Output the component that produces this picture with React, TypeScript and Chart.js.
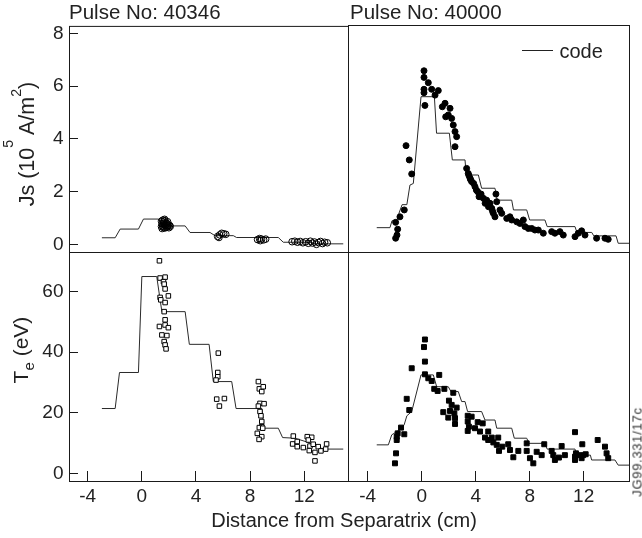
import React, { useEffect, useRef } from 'react';
import { Chart, registerables } from 'chart.js';
Chart.register(...registerables);

const W = 642;
const H = 538;
const FONT = "'Liberation Sans', Arial, Helvetica, sans-serif";

// tick values
const xTicks = [-4, 0, 4, 8, 12];
const jsTicks = [0, 2, 4, 6, 8];
const teTicks = [0, 20, 40, 60];

// ---------- Pulse 40346, Js ----------
const js40346CodeX = [-2.95, -1.97, -1.6, -0.25, 0.12, 1.23, 1.6, 3.2, 3.56, 5.04, 5.4, 6.76, 7.0, 10.08, 10.45, 12.5, 12.8, 14.88];
const js40346CodeY = [0.25, 0.25, 0.58, 0.58, 0.96, 0.96, 0.7, 0.7, 0.45, 0.45, 0.33, 0.33, 0.26, 0.26, 0.08, 0.08, 0.02, 0.02];
const js40346X = [1.45, 1.55, 1.6, 1.7, 1.8, 1.9, 1.5, 1.65, 1.75, 1.95, 1.45, 1.6, 1.7, 1.85, 2.0, 2.1, 1.55, 1.9, 1.5, 1.62, 1.78, 1.88, 2.05, 1.68,
  5.6, 5.75, 5.9, 6.05, 6.2, 5.7,
  8.55, 8.7, 8.85, 9.0, 9.15, 8.75,
  11.1, 11.3, 11.5, 11.7, 11.9, 12.1, 12.3, 12.45, 12.6, 12.75, 12.9, 13.05, 13.2, 13.35, 13.5, 13.7];
const js40346Y = [0.88, 0.92, 0.85, 0.9, 0.82, 0.86, 0.78, 0.75, 0.72, 0.74, 0.68, 0.64, 0.62, 0.65, 0.63, 0.68, 0.7, 0.7, 0.6, 0.8, 0.66, 0.78, 0.72, 0.95,
  0.3, 0.36, 0.42, 0.4, 0.38, 0.26,
  0.18, 0.22, 0.2, 0.17, 0.2, 0.14,
  0.1, 0.12, 0.08, 0.11, 0.06, 0.1, 0.04, 0.12, 0.05, 0.09, 0.0, 0.07, 0.11, 0.03, 0.08, 0.06];

// ---------- Pulse 40000, Js ----------
const js40000CodeX = [-3.33, -2.35, -2.2, -1.85, -1.7, -1.45, -1.1, -0.87, -0.62, -0.05, 0.94, 1.1, 2.05, 2.27, 3.21, 3.3, 4.2, 4.44, 5.43, 5.6, 6.67, 6.8, 7.78, 8.0, 9.13, 9.3, 11.36, 11.5, 12.6, 12.75, 14.4, 14.56, 15.36];
const js40000CodeY = [0.63, 0.63, 0.89, 0.89, 1.15, 1.5, 1.5, 2.24, 2.3, 5.58, 5.58, 4.2, 4.2, 3.19, 3.19, 2.62, 2.62, 2.12, 2.12, 1.67, 1.67, 1.3, 1.3, 0.92, 0.92, 0.67, 0.67, 0.45, 0.45, 0.32, 0.32, 0.04, 0.04];
const js40000X = [0.17, 0.17, 0.49, 0.17, 0.74, 1.23, 0.17, 0.99, 0.24, 1.53, 1.73, 2.1, 1.97, 2.22, 1.78, 2.34, 2.47, 2.59, 2.47, -1.16, -0.92, -0.74, -1.93, -1.78, -1.83, -1.93, -1.61, -1.29,
  3.33, 3.45, 3.58, 3.7, 3.95, 4.15, 4.32, 4.57, 4.81, 5.06, 5.19, 5.31, 5.43, 5.5, 5.56, 5.8, 5.93, 6.3, 6.54, 6.67, 7.04, 7.28, 7.53, 7.65, 7.9, 8.15, 8.39, 8.64, 9.01, 9.63, 9.87, 10.24, 10.49, 11.36, 11.6, 11.85, 12.1, 12.96, 13.58, 13.82,
  3.5, 3.85, 4.05, 4.4, 4.7, 4.95, 5.25, 3.62, 4.25];
const js40000Y = [6.56, 6.31, 6.11, 5.86, 5.86, 5.81, 5.73, 5.64, 5.25, 5.2, 5.33, 5.14, 4.89, 4.76, 4.82, 4.51, 4.26, 4.07, 3.69, 3.73, 3.19, 2.66, 0.83, 0.57, 0.35, 0.23, 1.04, 1.3,
  2.87, 2.68, 2.5, 2.37, 2.18, 1.99, 1.86, 1.74, 1.67, 1.55, 1.36, 1.17, 1.04, 1.9, 1.61, 1.3, 1.17, 0.98, 1.04, 0.92, 0.85, 0.79, 0.92, 0.67, 0.6, 0.6, 0.54, 0.54, 0.42, 0.48, 0.42, 0.48, 0.35, 0.29, 0.42, 0.51, 0.35, 0.23, 0.23, 0.19,
  2.6, 2.3, 2.05, 1.9, 1.55, 1.42, 1.25, 2.45, 1.8];

// ---------- Pulse 40346, Te ----------
const te40346CodeX = [-2.95, -1.97, -1.65, -0.25, 0.0, 1.1, 1.48, 3.2, 3.51, 4.97, 5.28, 6.64, 6.96, 8.86, 9.03, 10.08, 10.4, 11.3, 12.3, 13.4, 14.88];
const te40346CodeY = [21.4, 21.4, 33.3, 33.3, 65.0, 65.0, 53.4, 53.4, 42.6, 42.6, 30.3, 30.3, 21.4, 21.4, 14.9, 14.9, 11.8, 11.6, 10.2, 8.0, 8.0];
const te40346X = [1.3, 1.35, 1.72, 1.6, 1.65, 1.72, 1.96, 1.35, 1.4, 1.72, 1.65, 1.72, 1.3, 1.72, 1.96, 1.48, 1.85, 1.65, 1.72, 1.79,
  5.65, 5.61, 5.61, 5.48, 5.53, 5.73, 6.1,
  8.61, 8.68, 8.86, 8.97, 8.73, 9.03, 8.61, 8.73, 8.8, 8.86, 8.86, 8.68, 8.93, 8.53, 8.86, 8.66,
  11.19, 11.14, 11.48, 11.48, 11.93, 12.22, 12.55, 12.3, 12.42, 12.66, 12.37, 12.79, 13.03, 13.23, 13.58, 13.65, 12.79];
const te40346Y = [70.2, 64.5, 64.8, 63.3, 62.5, 60.9, 58.6, 58.1, 57.3, 56.4, 53.4, 50.7, 48.5, 49.0, 48.1, 45.7, 45.5, 43.5, 42.4, 41.1,
  39.7, 33.3, 31.9, 30.8, 24.5, 22.2, 24.7,
  30.3, 27.9, 27.0, 28.6, 23.1, 23.0, 22.2, 20.4, 19.0, 17.1, 15.4, 15.1, 14.9, 13.2, 12.1, 11.2,
  12.3, 9.7, 10.5, 8.8, 8.5, 12.1, 11.9, 11.0, 9.0, 9.6, 7.5, 6.9, 8.8, 7.4, 8.0, 9.7, 4.1];

// ---------- Pulse 40000, Te ----------
const te40000CodeX = [-3.33, -2.47, -2.22, -1.6, -1.3, -1.1, -0.74, -0.05, 0.86, 1.11, 1.97, 2.17, 2.71, 2.96, 3.21, 3.4, 4.44, 4.69, 5.43, 5.56, 6.67, 6.86, 7.78, 7.95, 9.13, 9.3, 11.36, 11.5, 12.5, 12.59, 14.32, 14.56, 15.36];
const te40000CodeY = [9.4, 9.4, 12.7, 14.5, 16.0, 19.0, 20.4, 32.5, 32.5, 28.6, 28.6, 27.0, 27.0, 23.7, 23.7, 20.4, 20.4, 17.6, 17.6, 14.9, 14.9, 11.6, 11.6, 9.9, 9.9, 8.0, 8.0, 6.0, 6.0, 4.4, 4.4, 2.7, 2.7];
const te40000X = [0.24, 0.17, 0.24, 0.24, -0.74, 1.3, 0.49, 0.74, 0.93, 1.18, 1.68, 2.34, 2.02, 2.22, 2.59, 2.1, 2.42, 1.6, 1.97, 2.47, 2.47, -0.92, -1.11, -1.53, -1.78, -1.85, -1.29, -1.9, -1.98, -1.85,
  3.41, 3.7, 3.41, 3.5, 3.41, 3.95, 4.15, 4.52, 4.32, 4.69, 4.93, 5.19, 4.93, 5.31, 5.67, 5.56, 5.73, 5.97, 6.41, 6.54, 6.79, 7.16, 7.78, 7.78, 8.02, 8.27, 8.52, 8.89, 9.08, 9.63, 9.75, 9.87, 10.17, 10.37, 10.61, 11.36, 11.43, 11.36, 11.6, 11.9, 11.97, 12.15, 13.04, 13.58, 13.7, 13.82, 11.36, 11.85];
const te40000Y = [44.2, 41.7, 36.9, 32.7, 34.7, 32.5, 31.4, 30.5, 27.9, 27.2, 27.9, 26.6, 24.0, 22.6, 21.7, 20.6, 19.8, 20.2, 18.4, 18.2, 16.3, 20.9, 24.6, 15.1, 13.2, 11.0, 12.9, 6.6, 3.3, 12.1,
  19.0, 18.7, 17.1, 15.4, 14.0, 14.9, 16.9, 16.5, 13.8, 11.8, 13.8, 11.8, 11.0, 10.2, 11.8, 9.4, 7.4, 8.8, 9.6, 7.7, 5.3, 7.4, 9.9, 7.4, 5.0, 3.3, 7.1, 6.0, 9.6, 7.4, 6.0, 4.4, 5.2, 9.0, 6.0, 13.6, 6.6, 4.4, 6.0, 9.6, 6.0, 6.3, 11.0, 8.8, 6.6, 5.0, 5.5, 5.0];

const zip = (xs: number[], ys: number[]) => xs.map((x, i) => ({ x, y: ys[i] }));

type PanelCfg = {
  box: [number, number, number, number];
  xRange: [number, number];
  yRange: [number, number];
  showX: boolean;
  yTickVals: number[] | null;
  line: { x: number; y: number }[];
  points: { x: number; y: number }[];
  pointStyle: string;
  radius: number;
  fill: string;
};

const framePlugin = {
  id: 'frame',
  afterDraw(chart: any) {
    const { ctx, chartArea: a } = chart;
    ctx.save();
    ctx.strokeStyle = '#1a1a1a';
    ctx.lineWidth = 1;
    ctx.strokeRect(a.left + 0.5, a.top + 0.5, a.right - a.left, a.bottom - a.top);
    ctx.restore();
  },
};

function makeConfig(p: PanelCfg): any {
  const hasY = p.yTickVals !== null;
  const yW = hasY ? p.box[0] : 0;
  const xH = p.showX ? H - p.box[3] : 0;
  return {
    type: 'scatter',
    data: {
      datasets: [
        {
          label: 'data',
          data: p.points,
          pointStyle: p.pointStyle,
          pointRadius: p.radius,
          backgroundColor: p.fill,
          borderColor: '#000',
          borderWidth: 1,
        },
        {
          label: 'code',
          data: p.line,
          showLine: true,
          borderColor: '#2a2a2a',
          borderWidth: 1,
          pointRadius: 0,
          tension: 0,
          fill: false,
        },
      ],
    },
    options: {
      responsive: false,
      animation: false,
      devicePixelRatio: 1,
      events: [],
      layout: {
        padding: {
          left: p.box[0] - yW,
          top: p.box[1],
          right: W - p.box[2],
          bottom: H - p.box[3] - xH,
        },
      },
      plugins: { legend: { display: false }, tooltip: { enabled: false }, title: { display: false } },
      scales: {
        x: {
          type: 'linear',
          position: 'bottom',
          min: p.xRange[0],
          max: p.xRange[1],
          display: p.showX,
          afterFit: (s: any) => { s.height = xH; },
          afterBuildTicks: (s: any) => { s.ticks = xTicks.map((v) => ({ value: v })); },
          border: { display: false },
          grid: { drawOnChartArea: false, drawTicks: true, tickLength: -10, tickColor: '#1a1a1a', tickWidth: 1 },
          ticks: { padding: 14, color: '#222', font: { family: FONT, size: 19 }, maxRotation: 0, autoSkip: false },
        },
        y: {
          type: 'linear',
          position: 'left',
          min: p.yRange[0],
          max: p.yRange[1],
          display: hasY,
          afterFit: (s: any) => { s.width = yW; },
          afterBuildTicks: (s: any) => { s.ticks = (p.yTickVals || []).map((v) => ({ value: v })); },
          border: { display: false },
          grid: { drawOnChartArea: false, drawTicks: true, tickLength: -9, tickColor: '#1a1a1a', tickWidth: 1 },
          ticks: { padding: 14.5, color: '#222', font: { family: FONT, size: 19 }, autoSkip: false },
        },
      },
    },
    plugins: [framePlugin],
  };
}

function Panel({ cfg }: { cfg: PanelCfg }) {
  const ref = useRef<HTMLCanvasElement>(null);
  useEffect(() => {
    const chart = new Chart(ref.current as HTMLCanvasElement, makeConfig(cfg));
    return () => chart.destroy();
  }, []);
  return (
    <canvas
      ref={ref}
      width={W}
      height={H}
      style={{ position: 'absolute', left: 0, top: 0, width: W, height: H }}
    />
  );
}

const panels: PanelCfg[] = [
  {
    box: [69, 25, 348, 252], xRange: [-5.38, 15.23], yRange: [-0.29, 8.29], showX: false, yTickVals: jsTicks,
    line: zip(js40346CodeX, js40346CodeY), points: zip(js40346X, js40346Y), pointStyle: 'circle', radius: 3.3, fill: 'rgba(255,255,255,0)',
  },
  {
    box: [348, 25, 629, 252], xRange: [-5.46, 15.36], yRange: [-0.29, 8.29], showX: false, yTickVals: null,
    line: zip(js40000CodeX, js40000CodeY), points: zip(js40000X, js40000Y), pointStyle: 'circle', radius: 3, fill: '#000',
  },
  {
    box: [69, 252, 348, 481], xRange: [-5.38, 15.23], yRange: [-2.54, 73.1], showX: true, yTickVals: teTicks,
    line: zip(te40346CodeX, te40346CodeY), points: zip(te40346X, te40346Y), pointStyle: 'rect', radius: 3.2, fill: '#fff',
  },
  {
    box: [348, 252, 629, 481], xRange: [-5.46, 15.36], yRange: [-2.54, 73.1], showX: true, yTickVals: null,
    line: zip(te40000CodeX, te40000CodeY), points: zip(te40000X, te40000Y), pointStyle: 'rect', radius: 3.5, fill: '#000',
  },
];

const txt: React.CSSProperties = {
  position: 'absolute',
  fontFamily: FONT,
  color: '#222',
  fontSize: 20,
  lineHeight: '20px',
  whiteSpace: 'nowrap',
};

export default function App() {
  return (
    <div style={{ position: 'absolute', left: 0, top: 0, width: W, height: H, background: '#fff', overflow: 'hidden' }}>
      {panels.map((p, i) => (
        <Panel key={i} cfg={p} />
      ))}
      <div style={{ ...txt, fontSize: 20.5, left: 69, top: 2 }}>Pulse No: 40346</div>
      <div style={{ ...txt, fontSize: 20.5, left: 350, top: 2 }}>Pulse No: 40000</div>
      <div style={{ position: 'absolute', left: 522, top: 50, width: 31, height: 1, background: '#222' }} />
      <div style={{ ...txt, left: 559.5, top: 41.4 }}>code</div>
      <div style={{ ...txt, left: 344, top: 509.8, transform: 'translateX(-50%)' }}>Distance from Separatrix (cm)</div>
      <div style={{ ...txt, fontSize: 21.5, lineHeight: '21.5px', left: 27.5, top: 144, transform: 'translate(-50%,-50%) rotate(-90deg)' }}>
        Js (10<span style={{ fontSize: '0.66em', position: 'relative', top: '-1.45em', lineHeight: 0 }}>5</span> A/m
        <span style={{ fontSize: '0.66em', position: 'relative', top: '-0.95em', lineHeight: 0 }}>2</span>)
      </div>
      <div style={{ ...txt, fontSize: 21, lineHeight: '21px', left: 19.7, top: 350, transform: 'translate(-50%,-50%) rotate(-90deg)' }}>
        T<span style={{ fontSize: '0.72em', position: 'relative', top: '0.42em', lineHeight: 0 }}>e</span> (eV)
      </div>
      <div style={{ ...txt, fontSize: 13, lineHeight: '13px', letterSpacing: '0.7px', left: 637, top: 452, transform: 'translate(-50%,-50%) rotate(-90deg)', color: '#333' }}>
        JG99.331/17c
      </div>
    </div>
  );
}
